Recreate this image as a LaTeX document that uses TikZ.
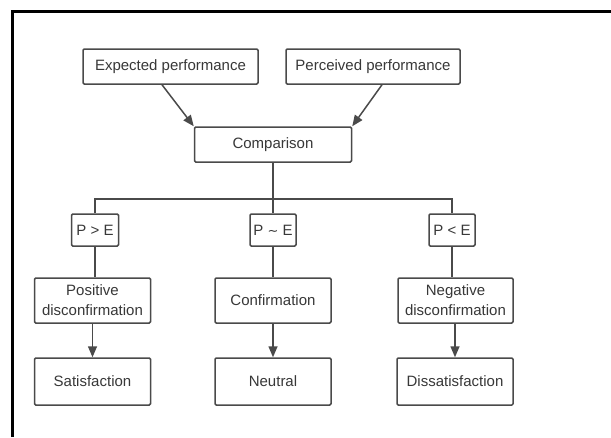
\documentclass[tikz,border=0pt]{standalone}
\usepackage{fontspec}
\setmainfont{Liberation Sans}
\newfontfamily\symfont{DejaVu Sans}
\usetikzlibrary{arrows.meta}
\definecolor{ink}{HTML}{4A4A4A}
\definecolor{txt}{HTML}{383838}
\begin{document}
\begin{tikzpicture}[x=1pt,y=-1pt,
  box/.style={draw=ink,line width=1.5pt,rounded corners=1.2pt,fill=white,
    text=txt,font=\fontsize{15}{20}\selectfont,align=center,inner sep=0pt},
  link/.style={draw=ink,line width=1.5pt},
  flow/.style={link,-{Triangle[length=11pt,width=9pt]}}]
\useasboundingbox (0,0) rectangle (611,437);
% outer frame
\draw[line width=3pt,black] (12,437) -- (12,11) -- (611,11);

% top row
\node[box,minimum width=175pt,minimum height=35pt] (exp) at (170.5,66.5) {Expected performance};
\node[box,minimum width=174pt,minimum height=35pt] (per) at (373,66.5) {Perceived performance};
\node[box,minimum width=157pt,minimum height=35pt] (cmp) at (273,144.5) {Comparison};

% comparison outcomes
\node[box,minimum width=47pt,minimum height=32pt] (pgt) at (95,230) {P > E};
\node[box,minimum width=46pt,minimum height=32pt] (peq) at (273,230) {P {\symfont\fontsize{13}{20}\selectfont ∼} E};
\node[box,minimum width=46pt,minimum height=32pt] (plt) at (452,230) {P < E};

% disconfirmation states
\node[box,minimum width=116pt,minimum height=45pt] (pos) at (92.5,300.5) {Positive\\disconfirmation};
\node[box,minimum width=116pt,minimum height=45pt] (con) at (273,300.5) {Confirmation};
\node[box,minimum width=115pt,minimum height=45pt] (neg) at (455.5,300.5) {Negative\\disconfirmation};

% resulting feelings
\node[box,minimum width=116pt,minimum height=47pt] (sat) at (92.5,381.5) {Satisfaction};
\node[box,minimum width=116pt,minimum height=47pt] (neu) at (273,381.5) {Neutral};
\node[box,minimum width=116pt,minimum height=47pt] (dis) at (455,381.5) {Dissatisfaction};

% inputs into the comparison
\draw[flow] ([xshift=-8.5pt]exp.south) -- (cmp.north west);
\draw[flow] ([xshift=9pt]per.south) -- (cmp.north east);

% branching bus
\coordinate (bus) at (273,199);
\draw[link] (cmp.south) -- (peq.north);
\draw[link] (pgt.north) -- (pgt.north |- bus) -- (plt.north |- bus) -- (plt.north);

% outcomes to states
\draw[link] (pgt.south) -- (pgt.south |- pos.north);
\draw[link] (peq.south) -- (con.north);
\draw[link] (plt.south) -- (plt.south |- neg.north);

% states to feelings
\draw[flow] (pos.south) -- (sat.north);
\draw[flow] (con.south) -- (neu.north);
\draw[flow] (neg.south -| dis.north) -- (dis.north);
\end{tikzpicture}
\end{document}
